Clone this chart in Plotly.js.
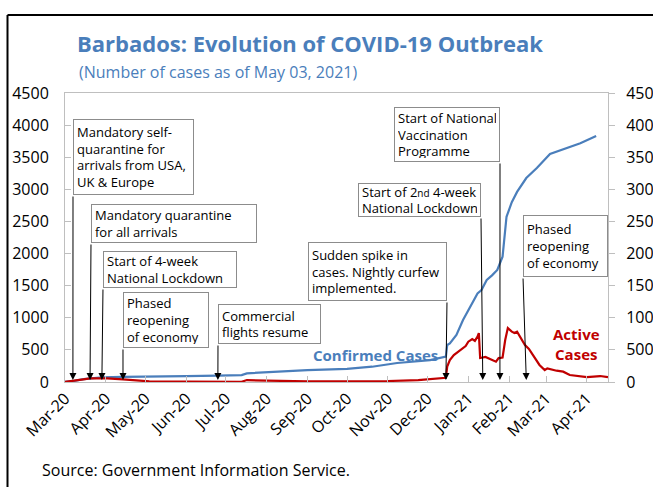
<!DOCTYPE html>
<html>
<head>
<meta charset="utf-8">
<script src="https://cdn.plot.ly/plotly-3.0.1.min.js"></script>
<style>
html,body{margin:0;padding:0;background:#fff;}
#chart{width:653px;height:487px;}
</style>
</head>
<body>
<div id="chart"></div>
<script>
// ---------------- DATA ----------------
const confirmedDates = ['2020-03-17','2020-03-24','2020-03-31','2020-04-07','2020-04-14','2020-04-30','2020-05-17','2020-06-17','2020-07-11','2020-07-29','2020-08-02','2020-08-17','2020-09-17','2020-10-17','2020-11-05','2020-11-24','2020-12-19','2020-12-31','2021-01-01','2021-01-03','2021-01-08','2021-01-13','2021-01-17','2021-01-21','2021-01-24','2021-01-27','2021-01-31','2021-02-04','2021-02-08','2021-02-12','2021-02-15','2021-02-19','2021-02-23','2021-03-02','2021-03-10','2021-03-20','2021-03-30','2021-04-12','2021-04-24'];
const confirmedCases = [2,18,46,63,73,81,88,92,98,108,135,155,185,205,238,296,342,394,576,600,732,965,1121,1277,1380,1432,1588,1660,1744,1951,2573,2800,2960,3176,3332,3550,3620,3716,3830];

const activeDates = ['2020-03-17','2020-03-24','2020-03-31','2020-04-05','2020-04-12','2020-04-18','2020-04-30','2020-05-10','2020-05-20','2020-06-17','2020-07-11','2020-07-29','2020-08-02','2020-08-17','2020-09-17','2020-10-17','2020-11-17','2020-12-10','2020-12-20','2020-12-31','2021-01-01','2021-01-03','2021-01-06','2021-01-08','2021-01-11','2021-01-13','2021-01-15','2021-01-17','2021-01-20','2021-01-22','2021-01-24','2021-01-25','2021-01-26','2021-01-30','2021-02-03','2021-02-07','2021-02-09','2021-02-12','2021-02-14','2021-02-16','2021-02-19','2021-02-21','2021-02-23','2021-02-26','2021-03-01','2021-03-04','2021-03-08','2021-03-12','2021-03-16','2021-03-18','2021-03-25','2021-03-30','2021-04-04','2021-04-12','2021-04-17','2021-04-27','2021-05-03'];
const activeCases = [2,16,40,55,62,58,40,22,10,5,3,4,30,20,12,10,15,30,42,65,240,342,420,451,500,529,560,628,669,640,706,763,373,389,358,317,373,380,654,840,784,763,784,685,576,514,394,265,187,213,176,161,109,93,76,93,76];

const eventDates = ['2020-03-23','2020-04-05','2020-04-14','2020-04-30','2020-07-11','2020-12-31','2021-01-28','2021-02-10','2021-03-02'];
const eventLabels = [
  'Mandatory self-<br>quarantine for<br>arrivals from USA,<br>UK &amp; Europe',
  'Mandatory quarantine<br>for all arrivals',
  'Start of 4-week<br>National Lockdown',
  'Phased<br>reopening<br>of economy',
  'Commercial<br>flights resume',
  'Sudden spike in<br>cases. Nightly curfew<br>implemented.',
  'Start of 2<span style="font-size:10px">nd</span> 4-week<br>National Lockdown',
  'Start of National<br>Vaccination<br>Programme',
  'Phased<br>reopening<br>of economy'
];

const tickDates = ['2020-03-17','2020-04-17','2020-05-17','2020-06-17','2020-07-17','2020-08-17','2020-09-17','2020-10-17','2020-11-17','2020-12-17','2021-01-17','2021-02-17','2021-03-17','2021-04-17'];
const tickLabels = ['Mar-20','Apr-20','May-20','Jun-20','Jul-20','Aug-20','Sep-20','Oct-20','Nov-20','Dec-20','Jan-21','Feb-21','Mar-21','Apr-21'];
const yTicks = [0,500,1000,1500,2000,2500,3000,3500,4000,4500];

// ---------------- LAYOUT GEOMETRY ----------------
const W = 653, H = 487;
const PL = 65, PR = 608, PT = 93, PB = 382;
const X0 = '2020-03-17', X1 = '2021-05-03';
const px2x = p => (p - PL) / (PR - PL);
const py2y = p => (PB - p) / (PB - PT);
const date2px = d => PL + (Date.parse(d) - Date.parse(X0)) / (Date.parse(X1) - Date.parse(X0)) * (PR - PL);

// box: [left, top, right, bottom] in px, corner used for arrow: 'l' or 'r'
const boxes = [
  [73,119,194,195,'l'],
  [91,204,257,243,'l'],
  [103,251,237,288,'l'],
  [123,292,209,348,'l'],
  [218,304,321,344,'l'],
  [308,242,447,301,'r'],
  [358,183,481,217,'r'],
  [394,107,500,162,'r'],
  [523,215,608,277,'l']
];
const tipY = 380;

const FONT = 'Open Sans, Noto Sans, sans-serif';
const BLUE = '#4A7EBB';
const RED = '#C00000';

const annotations = [];
const PAD = 3, BW = 1;
boxes.forEach((b, i) => {
  const [l, t, r, btm, side] = b;
  annotations.push({
    xref: 'paper', yref: 'paper',
    x: px2x(l), y: py2y(t), xanchor: 'left', yanchor: 'top',
    text: eventLabels[i], showarrow: false, align: 'left', valign: 'middle',
    width: (r - l) - 2 * PAD - 2 * BW, height: (btm - t) - 2 * PAD - 2 * BW,
    bgcolor: '#ffffff', bordercolor: '#8c8c8c', borderwidth: BW, borderpad: PAD,
    font: {family: FONT, size: 13, color: '#000'}
  });
  const tipPx = date2px(eventDates[i]);
  const tailX = side === 'l' ? l : r;
  annotations.push({
    xref: 'x', yref: 'paper', x: eventDates[i], y: py2y(tipY),
    text: '', showarrow: true, arrowhead: 2, arrowsize: 1.4, arrowwidth: 1, arrowcolor: '#000',
    ax: tailX - tipPx, ay: btm - tipY, standoff: 0, startstandoff: 0
  });
});

// subtitle, series labels, source
annotations.push({
  xref: 'paper', yref: 'paper', x: px2x(77), y: py2y(72), xanchor: 'left', yanchor: 'middle',
  text: '(Number of cases as of May 03, 2021)', showarrow: false,
  font: {family: FONT, size: 16, color: BLUE}
});
annotations.push({
  xref: 'paper', yref: 'paper', x: px2x(375), y: py2y(355), xanchor: 'center', yanchor: 'middle',
  text: '<b>Confirmed Cases</b>', showarrow: false,
  font: {family: FONT, size: 15, color: BLUE}
});
annotations.push({
  xref: 'paper', yref: 'paper', x: px2x(576), y: py2y(344), xanchor: 'center', yanchor: 'middle',
  text: '<b>Active<br>Cases</b>', showarrow: false, align: 'center',
  font: {family: FONT, size: 15, color: RED}
});
annotations.push({
  xref: 'paper', yref: 'paper', x: px2x(40), y: py2y(470), xanchor: 'left', yanchor: 'middle',
  text: 'Source: Government Information Service.', showarrow: false,
  font: {family: FONT, size: 16, color: '#000'}
});

const traces = [
  {x: confirmedDates, y: confirmedCases, type: 'scatter', mode: 'lines', name: 'Confirmed Cases',
   line: {color: BLUE, width: 2.2}, yaxis: 'y', hoverinfo: 'skip'},
  {x: activeDates, y: activeCases, type: 'scatter', mode: 'lines', name: 'Active Cases',
   line: {color: RED, width: 2.2}, yaxis: 'y2', hoverinfo: 'skip'}
];

const axisFont = {family: FONT, size: 16, color: '#000'};
const layout = {
  width: W, height: H,
  margin: {l: PL, r: W - PR, t: PT, b: H - PB, pad: 0},
  paper_bgcolor: '#fff', plot_bgcolor: '#fff',
  showlegend: false,
  title: {
    text: '<b>Barbados: Evolution of COVID-19 Outbreak</b>',
    font: {family: FONT, size: 22, color: BLUE},
    xref: 'paper', x: px2x(77), xanchor: 'left',
    yref: 'container', y: 1 - 44 / H, yanchor: 'middle'
  },
  xaxis: {
    type: 'date', range: [X0, X1],
    tickvals: tickDates, ticktext: tickLabels, tickangle: -45,
    tickfont: {family: FONT, size: 16, color: '#000'},
    ticks: 'inside', ticklen: 6, tickcolor: '#bfbfbf',
    showline: true, linecolor: '#bfbfbf', linewidth: 1, mirror: true,
    showgrid: false, zeroline: false, fixedrange: true
  },
  yaxis: {
    range: [0, 4500], tickvals: yTicks, ticktext: yTicks.map(String),
    tickfont: axisFont, ticks: 'inside', ticklen: 6, tickcolor: '#bfbfbf',
    ticklabelstandoff: 12,
    showline: true, linecolor: '#bfbfbf', linewidth: 1,
    showgrid: false, zeroline: false, fixedrange: true
  },
  yaxis2: {
    range: [0, 4500], tickvals: yTicks, ticktext: yTicks.map(String),
    overlaying: 'y', side: 'right',
    tickfont: axisFont, ticks: 'outside', ticklen: 6, tickcolor: '#bfbfbf',
    ticklabelstandoff: 8,
    showline: true, linecolor: '#bfbfbf', linewidth: 1,
    showgrid: false, zeroline: false, fixedrange: true
  },
  shapes: [
    {type: 'line', xref: 'paper', yref: 'paper', x0: px2x(7.5), x1: px2x(W + 5), y0: py2y(15), y1: py2y(15),
     line: {color: '#000', width: 2}},
    {type: 'line', xref: 'paper', yref: 'paper', x0: px2x(7.5), x1: px2x(7.5), y0: py2y(15), y1: py2y(H + 5),
     line: {color: '#000', width: 2}}
  ],
  annotations: annotations
};

Plotly.newPlot('chart', traces, layout, {displayModeBar: false, staticPlot: true});
</script>
</body>
</html>
